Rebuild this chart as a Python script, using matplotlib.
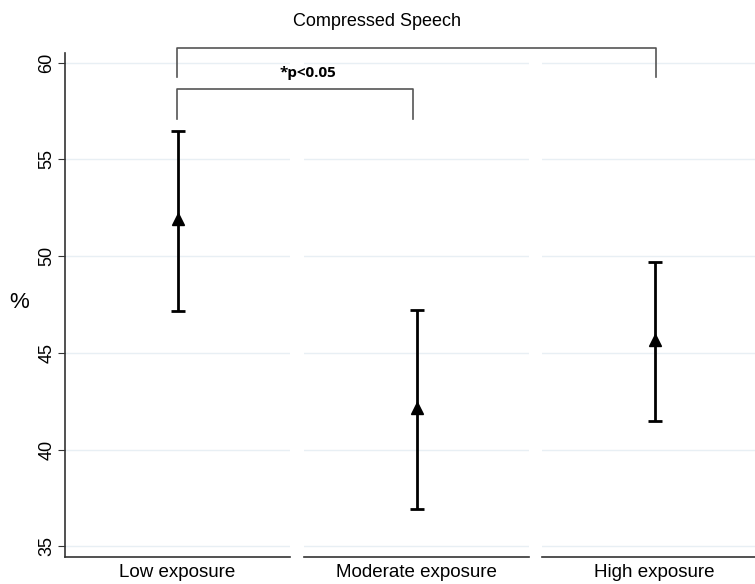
import matplotlib.pyplot as plt

groups = ["Low exposure", "Moderate exposure", "High exposure"]
means = [51.9, 42.15, 45.65]
upper = [56.45, 47.2, 49.7]
lower = [47.15, 36.95, 41.5]
yticks = [35, 40, 45, 50, 55, 60]

plt.rcParams['font.family'] = ['Liberation Sans', 'DejaVu Sans']

fig = plt.figure(figsize=(7.55, 5.84), dpi=100)
lefts = [65, 304, 542]
axes = []
for i, name in enumerate(groups):
    ax = fig.add_axes([lefts[i] / 755, 1 - 557 / 584, 225 / 755, 504 / 584])
    ax.errorbar([0], [means[i]],
                yerr=[[means[i] - lower[i]], [upper[i] - means[i]]],
                fmt='^', color='black', ms=9, elinewidth=2, capsize=5,
                capthick=2, zorder=3)
    ax.set_xlim(-1, 1)
    ax.set_ylim(34.45, 60.5)
    ax.set_yticks(yticks)
    ax.grid(axis='y', color='#e8eff4', lw=1)
    ax.set_axisbelow(True)
    ax.set_xticks([])
    ax.set_xlabel(name, fontsize=13.5, labelpad=5)
    for s in ['top', 'right']:
        ax.spines[s].set_visible(False)
    ax.spines['bottom'].set_color('#333333')
    ax.spines['bottom'].set_linewidth(1.2)
    if i == 0:
        ax.spines['left'].set_color('#333333')
        ax.spines['left'].set_linewidth(1.2)
        ax.tick_params(axis='y', labelsize=13, length=5, pad=2, color='#333333')
        for lab in ax.get_yticklabels():
            lab.set_rotation(90)
            lab.set_va('center')
    else:
        ax.spines['left'].set_visible(False)
        ax.tick_params(axis='y', left=False, labelleft=False)
    axes.append(ax)

fig.text(19 / 755, 1 - 303 / 584, '%', fontsize=16, ha='center', va='center')

# significance brackets drawn in figure pixel coordinates
def bracket(x0, x1, ytop, ybot):
    fig.add_artist(plt.Line2D([x0 / 755, x0 / 755, x1 / 755, x1 / 755],
                              [1 - ybot / 584, 1 - ytop / 584, 1 - ytop / 584, 1 - ybot / 584],
                              color='#555555', lw=1.2))

bracket(177, 656, 48, 77)
bracket(177, 413, 89, 119)
fig.text(308 / 755, 1 - 73 / 584, '*p<0.05', ha='center', va='center',
         fontsize=11, fontweight='bold', family=['Open Sans', 'DejaVu Sans'])
fig.text(377 / 755, 1 - 21 / 584, 'Compressed Speech', ha='center', va='center',
         fontsize=13)

fig.savefig('out.png', dpi=100)
